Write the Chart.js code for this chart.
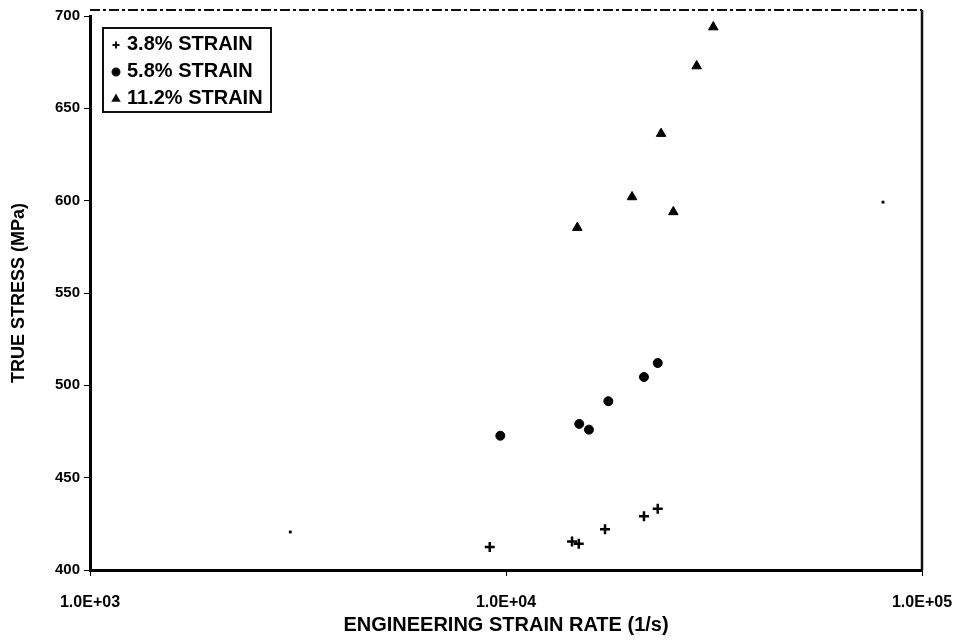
<!DOCTYPE html>
<html>
<head>
<meta charset="utf-8">
<script src="https://cdn.jsdelivr.net/npm/chart.js@4"></script>
<style>
  html, body { margin: 0; padding: 0; background: #fff; }
  #wrap { width: 964px; height: 641px; }
</style>
</head>
<body>
<div id="wrap"><canvas id="grafico"></canvas></div>
<script>
// strain rate (1/s) and true stress (MPa) for each strain level
var rate38 = [9140, 14410, 14960, 17300, 21460, 23160];
var stress38 = [412.5, 415.5, 414.2, 422.0, 429.1, 433.2];

var rate58 = [9690, 15000, 15830, 17620, 21460, 23160];
var stress58 = [472.7, 479.1, 476.0, 491.4, 504.5, 512.1];

var rate112 = [14840, 20090, 25250, 23590, 28730, 31500];
var stress112 = [585.4, 602.0, 593.9, 636.3, 672.9, 694.0];

// two loose specks on the sheet
var rateSpeck = [3030, 80600];
var stressSpeck = [420.6, 599.2];

var seriesNames = ['3.8% STRAIN', '5.8% STRAIN', '11.2% STRAIN'];
var xTicks = [1000, 10000, 100000];
var xTickLabels = ['1.0E+03', '1.0E+04', '1.0E+05'];
var yTicks = [400, 450, 500, 550, 600, 650, 700];

function pts(xs, ys) {
    return xs.map(function (x, i) { return { x: x, y: ys[i] }; });
}

var fonte = 'Liberation Sans, Arial, sans-serif';

// box legend + top/right frame
var moldura = {
    id: 'moldura',
    afterDraw: function (chart) {
        var c = chart.ctx;
        var a = chart.chartArea;
        c.save();
        c.strokeStyle = '#111';
        c.lineWidth = 2;
        c.setLineDash([10, 3, 3, 3]);
        c.beginPath();
        c.moveTo(a.left, a.top - 6);
        c.lineTo(a.right, a.top - 6);
        c.stroke();
        c.setLineDash([]);
        c.lineWidth = 2.5;
        c.beginPath();
        c.moveTo(a.right, a.top - 6);
        c.lineTo(a.right, a.bottom);
        c.stroke();

        // legend
        c.lineWidth = 2;
        c.strokeRect(103, 28, 168, 84);
        c.font = 'bold 20px ' + fonte;
        c.fillStyle = '#000';
        c.textBaseline = 'middle';
        for (var i = 0; i < 3; i++) {
            var ds = chart.data.datasets[i];
            var y = 44 + i * 27;
            Chart.helpers.drawPoint(c, {
                pointStyle: ds.pointStyle,
                radius: 3.5,
                borderWidth: 1.5,
                rotation: 0
            }, 116, y + 1);
            c.fillText(ds.label, 127, y);
        }
        c.restore();
    }
};

var ctx = document.getElementById('grafico');
var myChart = new Chart(ctx, {
    type: 'scatter',
    data: {
        datasets: [{
            label: seriesNames[0],
            data: pts(rate38, stress38),
            pointStyle: 'cross',
            pointRadius: 5,
            pointBorderWidth: 2.5,
            borderColor: '#000',
            backgroundColor: '#000'
        }, {
            label: seriesNames[1],
            data: pts(rate58, stress58),
            pointStyle: 'circle',
            pointRadius: 4.5,
            borderColor: '#000',
            backgroundColor: '#000'
        }, {
            label: seriesNames[2],
            data: pts(rate112, stress112),
            pointStyle: 'triangle',
            pointRadius: 5.5,
            borderColor: '#000',
            backgroundColor: '#000'
        }, {
            label: '',
            data: pts(rateSpeck, stressSpeck),
            pointStyle: 'rect',
            pointRadius: 2,
            borderWidth: 0,
            borderColor: '#000',
            backgroundColor: '#000'
        }]
    },
    options: {
        responsive: true,
        maintainAspectRatio: false,
        animation: false,
        layout: { padding: { top: 16, right: 42, left: 0, bottom: 0 } },
        plugins: {
            legend: { display: false },
            tooltip: { enabled: false }
        },
        scales: {
            x: {
                type: 'logarithmic',
                min: 1000,
                max: 100000,
                afterBuildTicks: function (scale) {
                    scale.ticks = xTicks.map(function (v) { return { value: v }; });
                },
                afterFit: function (scale) {
                    scale.height = 71;
                    scale.paddingLeft = 0;
                    scale.paddingRight = 0;
                },
                ticks: {
                    color: '#000',
                    font: { family: fonte, size: 16, weight: 'bold' },
                    padding: 17,
                    maxRotation: 0,
                    callback: function (v) {
                        var i = xTicks.indexOf(v);
                        return i >= 0 ? xTickLabels[i] : '';
                    }
                },
                grid: { drawOnChartArea: false, color: '#000', tickLength: 6 },
                border: { color: '#000', width: 3 },
                title: {
                    display: true,
                    text: 'ENGINEERING STRAIN RATE (1/s)',
                    color: '#000',
                    font: { family: fonte, size: 20, weight: 'bold' },
                    padding: { top: 0 }
                }
            },
            y: {
                min: 400,
                max: 700,
                afterBuildTicks: function (scale) {
                    scale.ticks = yTicks.map(function (v) { return { value: v }; });
                },
                afterFit: function (scale) { scale.width = 90; },
                ticks: {
                    color: '#000',
                    font: { family: fonte, size: 15, weight: 'bold' },
                    padding: 4
                },
                grid: { drawOnChartArea: false, color: '#000', tickLength: 6 },
                border: { color: '#000', width: 3 },
                title: {
                    display: true,
                    text: 'TRUE STRESS (MPa)',
                    color: '#000',
                    font: { family: fonte, size: 18, weight: 'bold' },
                    padding: { top: 8, bottom: 4 }
                }
            }
        }
    },
    plugins: [moldura]
});
</script>
</body>
</html>
